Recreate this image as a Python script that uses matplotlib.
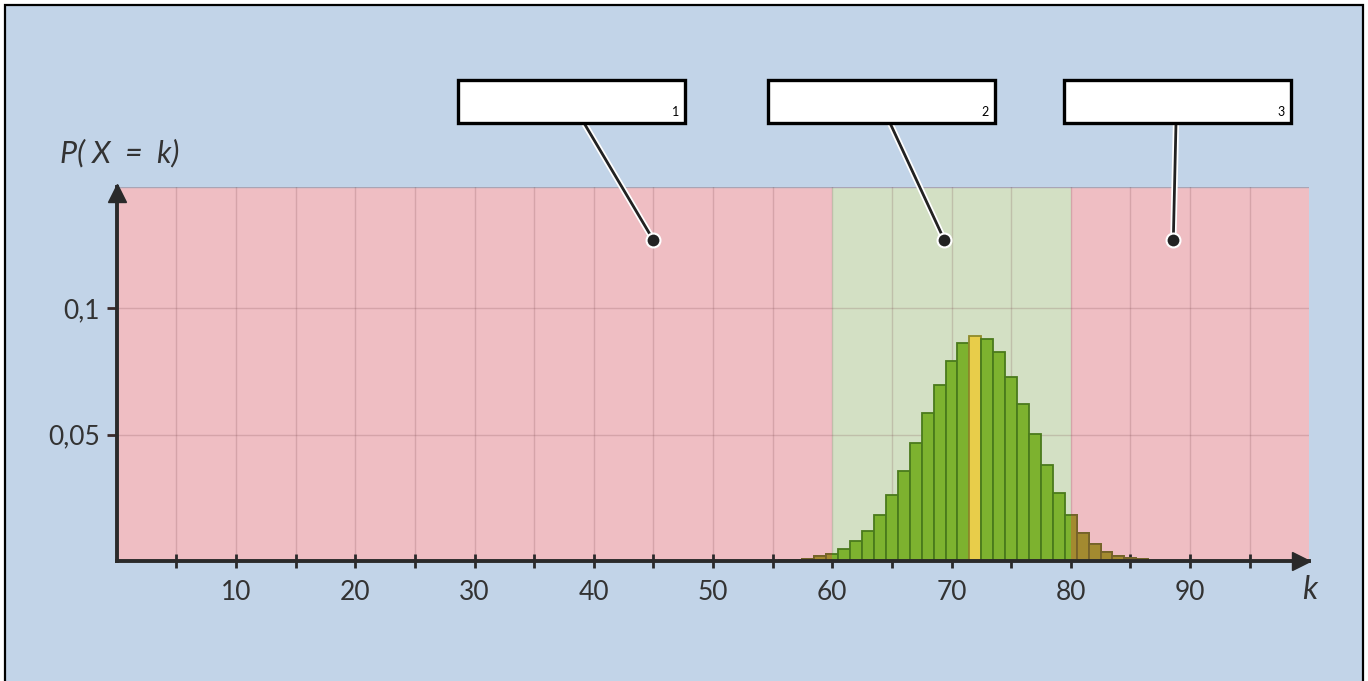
import numpy as np
import matplotlib.pyplot as plt
import matplotlib.patches as mpatches
import matplotlib.patheffects as pe

# binomial-like bars
k_values = [56, 57, 58, 59, 60, 61, 62, 63, 64, 65, 66, 67, 68, 69, 70, 71,
            72, 73, 74, 75, 76, 77, 78, 79, 80, 81, 82, 83, 84, 85, 86]
p_values = [0.0003, 0.0005, 0.0009, 0.0018, 0.0029, 0.0049, 0.0079, 0.0120,
            0.0183, 0.0262, 0.0357, 0.0466, 0.0584, 0.0697, 0.0793, 0.0862,
            0.0892, 0.0879, 0.0826, 0.0730, 0.0623, 0.0501, 0.0379, 0.0270,
            0.0183, 0.0112, 0.0066, 0.0036, 0.0018, 0.0012, 0.0008]
mode_k = 72

# regions along the k axis: (start, end, colour)
regions = [(0, 60, '#efbec3'), (60, 80, '#d3e0c4'), (80, 100, '#efbec3')]
accept_lo, accept_hi = 60, 80

x_tick_pos = list(range(5, 100, 5))
x_tick_lab = [str(v) if v % 10 == 0 else '' for v in x_tick_pos]
y_tick_pos = [0.05, 0.1]
y_tick_lab = ['0,05', '0,1']

box_numbers = ['1', '2', '3']
dot_x = [45, 69.4, 88.6]
dot_y = 0.127

bg = '#c2d4e8'
txt = '#333333'
plt.rcParams['font.family'] = ['Lato', 'DejaVu Sans']

fig = plt.figure(figsize=(13.68, 6.81), dpi=100)
fig.patch.set_facecolor('white')
W, H = 1368, 681
# light blue panel with black frame
fig.patches.append(mpatches.Rectangle((5 / W, -0.02), 1358 / W, (H - 5) / H + 0.02,
                                      transform=fig.transFigure, facecolor=bg,
                                      edgecolor='black', lw=1.6, zorder=-5))

ax = fig.add_axes([116.75 / W, 120 / H, 1192.5 / W, 374 / H])
ax.set_zorder(1)
ax.set_facecolor('none')
ax.set_xlim(0, 100)
ax.set_ylim(0, 0.148)

for a, b, c in regions:
    ax.axvspan(a, b, color=c, lw=0, zorder=0)
ax.axhline(0.148, color='#a9a5b5', lw=1, zorder=1)

# grid
for v in x_tick_pos:
    ax.axvline(v, color='#7a4a50', alpha=0.22, lw=1, zorder=1)
for v in y_tick_pos:
    ax.axhline(v, color='#7a4a50', alpha=0.22, lw=1, zorder=1)

k = np.array(k_values)
p = np.array(p_values)
cols = ['#e8cd4a' if kk == mode_k else '#7db22f' for kk in k]
ecols = ['#8f8a2a' if kk == mode_k else '#4a7a1c' for kk in k]
ax.bar(k, p, width=1, color=cols, edgecolor=ecols, lw=1.3, zorder=2)

# brown look where bars sit on the red regions
for a, b, c in regions:
    if a >= accept_lo and b <= accept_hi:
        continue
    bars = ax.bar(k, p, width=1, color='#a38a30', edgecolor='#76622a', lw=1.3, zorder=3)
    clip = mpatches.Rectangle((a, 0), b - a, 0.148, transform=ax.transData,
                              facecolor='none', edgecolor='none')
    for r in bars:
        r.set_clip_path(clip)

# axes
for s in ['top', 'right']:
    ax.spines[s].set_visible(False)
for s in ['left', 'bottom']:
    ax.spines[s].set_linewidth(2.8)
    ax.spines[s].set_color('#2a2a2a')
    ax.spines[s].set_zorder(5)
ax.plot(0.993, 0, '>', color='#2a2a2a', ms=13, transform=ax.transAxes, clip_on=False, zorder=6)
ax.plot(0, 0.985, '^', color='#2a2a2a', ms=13, transform=ax.transAxes, clip_on=False, zorder=6)

ax.set_xticks(x_tick_pos)
ax.set_xticklabels(x_tick_lab)
ax.tick_params(axis='x', direction='inout', length=10, width=2, color='#2a2a2a',
               labelsize=19, labelcolor=txt, pad=9)
ax.set_yticks(y_tick_pos)
ax.set_yticklabels(y_tick_lab)
ax.tick_params(axis='y', direction='out', length=7, width=2, color='#3a2a2a',
               labelsize=19, labelcolor=txt, pad=5)

fig.text(60 / W, (H - 153) / H, 'P( X  =  k)', fontsize=22, style='italic', color=txt,
         ha='left', va='center')
fig.text(1310 / W, (H - 590) / H, 'k', fontsize=23, style='italic', color=txt,
         ha='center', va='center')

# boxes with leader lines
box_left = [458, 768, 1064]
box_anchor = [584, 890, 1176]
bw, bh, btop = 227, 43, 80
for i in range(3):
    x0 = box_left[i]
    fig.patches.append(mpatches.Rectangle((x0 / W, (H - btop - bh) / H), bw / W, bh / H,
                                          transform=fig.transFigure, facecolor='white',
                                          edgecolor='black', lw=2.4, zorder=10))
    fig.text((x0 + bw - 6) / W, (H - btop - bh + 5) / H, box_numbers[i], fontsize=9,
             ha='right', va='bottom', color='black', zorder=11)
    an = ax.annotate('', xy=(dot_x[i], dot_y), xycoords='data',
                     xytext=(box_anchor[i], H - btop - bh), textcoords='figure pixels',
                     arrowprops=dict(arrowstyle='-', lw=2, color='#222222',
                                     shrinkA=0, shrinkB=0),
                     annotation_clip=False, zorder=8)
    an.arrow_patch.set_path_effects([pe.Stroke(linewidth=4.5, foreground='white'), pe.Normal()])
    ax.plot(dot_x[i], dot_y, 'o', color='#222222', ms=10, mec='white', mew=1.5,
            zorder=9, clip_on=False)

fig.savefig('out.png', dpi=100, facecolor=fig.get_facecolor())
